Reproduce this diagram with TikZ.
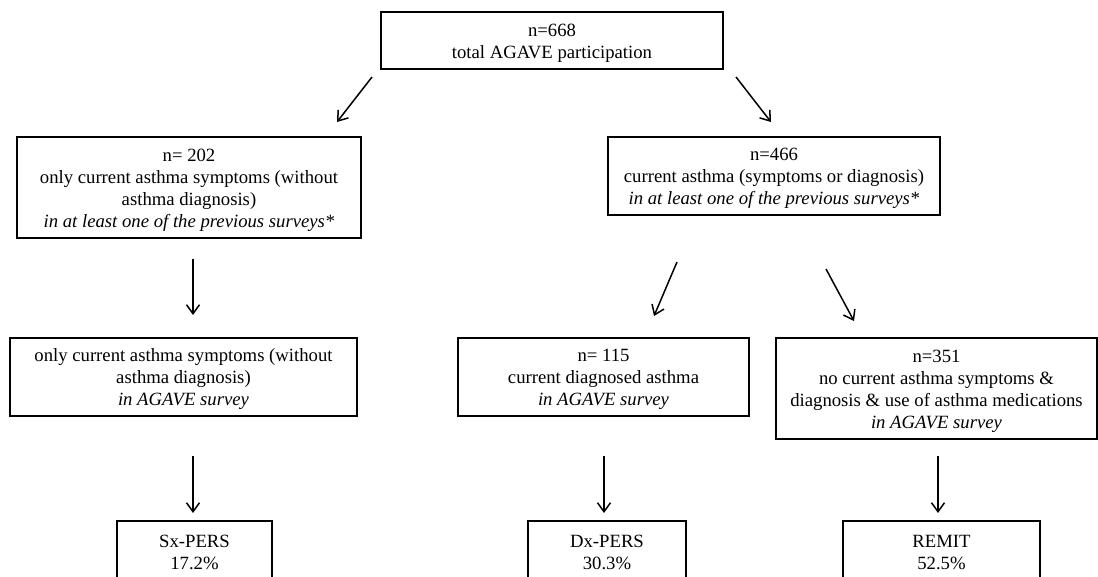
\documentclass[tikz,border=0pt]{standalone}
\usepackage{fontspec}
\setmainfont{Liberation Serif}
\usetikzlibrary{arrows.meta}

\begin{document}
\begin{tikzpicture}[x=1pt,y=-1pt,
  box/.style={draw=black, line width=1.5pt, fill=white, inner sep=0pt},
  txt/.style={inner sep=0pt, align=center, font=\fontsize{18.7pt}{22pt}\selectfont},
  flow/.style={line width=1.5pt, -{Straight Barb[length=9pt,width=13pt,line width=1.5pt]}}]
  \useasboundingbox (0,0) rectangle (1098,577);
  \clip (0,0) rectangle (1098,577);

  % frames
  \node[box, minimum width=342pt, minimum height=57pt]  (total)  at (552,40.5)   {};
  \node[box, minimum width=344pt, minimum height=101pt] (symp)   at (189,187.5)  {};
  \node[box, minimum width=332pt, minimum height=78pt]  (curr)   at (774,176)    {};
  \node[box, minimum width=347pt, minimum height=78pt]  (sympag) at (183.5,377)  {};
  \node[box, minimum width=291pt, minimum height=78pt]  (diag)   at (603.5,377)  {};
  \node[box, minimum width=321pt, minimum height=101pt] (none)   at (936.5,388.5){};
  \node[box, minimum width=155pt, minimum height=61pt]  (sx)     at (194.5,551.5){};
  \node[box, minimum width=158pt, minimum height=61pt]  (dx)     at (607,551.5)  {};
  \node[box, minimum width=197pt, minimum height=61pt]  (remit)  at (941.5,551.5){};

  % texts, centred in their frames
  \node[txt] (totalT) at ([yshift=-2.5pt]total.center)
    {n=668\\total AGAVE participation};
  \node[txt] (sympT) at ([yshift=-2.5pt]symp.center)
    {n= 202\\only current asthma symptoms (without\\asthma diagnosis)\\\textit{in at least one of the previous surveys*}};
  \node[txt] (currT) at ([yshift=-2.5pt]curr.center)
    {n=466\\current asthma (symptoms or diagnosis)\\\textit{in at least one of the previous surveys*}};
  \node[txt] (sympagT) at ([yshift=-2.5pt]sympag.center)
    {only current asthma symptoms (without\\asthma diagnosis)\\\textit{in AGAVE survey}};
  \node[txt] (diagT) at ([yshift=-2.5pt]diag.center)
    {n= 115\\current diagnosed asthma\\\textit{in AGAVE survey}};
  \node[txt] (noneT) at ([yshift=-2.5pt]none.center)
    {n=351\\no current asthma symptoms \&\\diagnosis \& use of asthma medications\\\textit{in AGAVE survey}};
  \node[txt] (sxT) at ([yshift=-1pt]sx.center) {Sx-PERS\\17.2\%};
  \node[txt] (dxT) at ([yshift=-1pt]dx.center) {Dx-PERS\\30.3\%};
  \node[txt] (remitT) at ([yshift=-1pt]remit.center) {REMIT\\52.5\%};

  % arrow end points
  \coordinate (a1s) at (372,77);   \coordinate (a1e) at (337,122);
  \coordinate (a2s) at (736,77);   \coordinate (a2e) at (771,122);
  \coordinate (a3s) at (193,259);  \coordinate (a3e) at (193,315);
  \coordinate (a4s) at (677,262);  \coordinate (a4e) at (654,316);
  \coordinate (a5s) at (826,269);  \coordinate (a5e) at (854,321);
  \coordinate (a6s) at (193,456);  \coordinate (a6e) at (193,513);
  \coordinate (a7s) at (604,456);  \coordinate (a7e) at (604,513);
  \coordinate (a8s) at (938,456);  \coordinate (a8e) at (938,513);

  \draw[flow] (a1s) -- (a1e);
  \draw[flow] (a2s) -- (a2e);
  \draw[flow] (a3s) -- (a3e);
  \draw[flow] (a4s) -- (a4e);
  \draw[flow] (a5s) -- (a5e);
  \draw[flow] (a6s) -- (a6e);
  \draw[flow] (a7s) -- (a7e);
  \draw[flow] (a8s) -- (a8e);
\end{tikzpicture}
\end{document}
